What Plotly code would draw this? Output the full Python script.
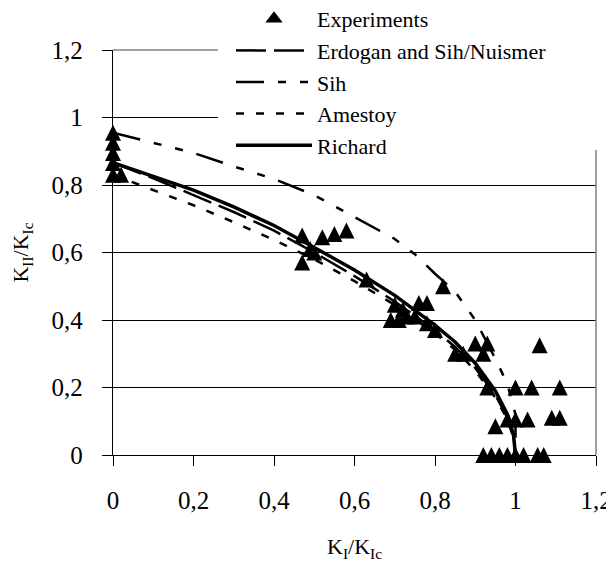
import plotly.graph_objects as go

# ---------------- data ----------------
exp_x = [0, 0, 0, 0, 0, 0.02,
         0.47, 0.47, 0.49, 0.50, 0.52, 0.55, 0.58,
         0.63,
         0.69, 0.70, 0.71, 0.72, 0.73, 0.75, 0.76, 0.78, 0.78, 0.80,
         0.82,
         0.85, 0.87, 0.90, 0.92, 0.93, 1.06,
         0.93, 1.00, 1.04, 1.11,
         0.95, 0.98, 1.00, 1.03, 1.09, 1.11,
         0.92, 0.94, 0.96, 0.98, 1.00, 1.02, 1.055, 1.07]
exp_y = [0.83, 0.865, 0.895, 0.925, 0.955, 0.83,
         0.65, 0.57, 0.61, 0.60, 0.645, 0.655, 0.665,
         0.52,
         0.40, 0.445, 0.40, 0.43, 0.41, 0.41, 0.45, 0.45, 0.39, 0.37,
         0.50,
         0.30, 0.30, 0.33, 0.30, 0.33, 0.325,
         0.20, 0.20, 0.20, 0.20,
         0.085, 0.105, 0.105, 0.105, 0.11, 0.11,
         0, 0, 0, 0, 0, 0, 0, 0]

curve_x = [0, 0.1, 0.2, 0.3, 0.4, 0.5, 0.6, 0.7, 0.8, 0.85, 0.9, 0.95, 0.98, 0.995, 1.0]
richard_y = [0.866, 0.825, 0.785, 0.735, 0.68, 0.615, 0.548, 0.473, 0.385, 0.335, 0.272, 0.19, 0.12, 0.06, 0]
erdogan_y = [0.866, 0.82, 0.77, 0.72, 0.665, 0.60, 0.53, 0.455, 0.37, 0.32, 0.258, 0.178, 0.11, 0.055, 0]
amestoy_y = [0.83, 0.785, 0.74, 0.69, 0.637, 0.58, 0.515, 0.445, 0.36, 0.312, 0.25, 0.17, 0.105, 0.05, 0]

sih_x = [0, 0.1, 0.2, 0.3, 0.4, 0.5, 0.6, 0.7, 0.75, 0.8, 0.85, 0.9, 0.95, 0.98, 1.0, 1.0]
sih_y = [0.955, 0.925, 0.895, 0.855, 0.818, 0.77, 0.705, 0.64, 0.595, 0.537, 0.484, 0.40, 0.285, 0.21, 0.12, 0]

tick_vals = [0, 0.2, 0.4, 0.6, 0.8, 1.0, 1.2]

# ---------------- layout constants ----------------
# the page adds an 8px body margin, so the figure is 8px smaller
W, H = 606, 557
M_L, M_R, M_T, M_B = 105, 18, 42, 110
Y_RANGE = [0, 1.2]
MARKER_SIZE = 16
FONT = "Times New Roman, Liberation Serif, serif"

plot_w = W - M_L - M_R
plot_h = H - M_T - M_B
px_per_unit = plot_h / (Y_RANGE[1] - Y_RANGE[0])
# arrow-up symbol has its apex at the data point; shift its axis so the
# triangle is centred on the value
shift = (MARKER_SIZE / 2) / px_per_unit

LEG_LEFT = 223      # figure px
LEG_TOP = -10       # figure px
LEG_BOTTOM = 142    # figure px (white box under legend)
legend_x = (LEG_LEFT - M_L) / plot_w
legend_y = (H - M_B - LEG_TOP) / plot_h
box_x0 = (218 - 8 - M_L) / plot_w
box_y0 = (H - M_B - LEG_BOTTOM) / plot_h

fig = go.Figure()

# legend entry for experiments
fig.add_trace(go.Scatter(
    x=[None], y=[None], mode="markers", name="Experiments",
    marker=dict(symbol="triangle-up", size=15, color="black"),
))
fig.add_trace(go.Scatter(
    x=curve_x, y=erdogan_y, mode="lines", name="Erdogan and Sih/Nuismer",
    line=dict(color="black", width=2.5, dash="30px,8px"),
))
fig.add_trace(go.Scatter(
    x=sih_x, y=sih_y, mode="lines", name="Sih",
    line=dict(color="black", width=2.5, dash="28px,14px,8px,14px,8px,14px"),
))
fig.add_trace(go.Scatter(
    x=curve_x, y=amestoy_y, mode="lines", name="Amestoy",
    line=dict(color="black", width=2.5, dash="8px,12px"),
))
fig.add_trace(go.Scatter(
    x=curve_x, y=richard_y, mode="lines", name="Richard",
    line=dict(color="black", width=3.5),
))
# experimental points
fig.add_trace(go.Scatter(
    x=exp_x, y=exp_y, mode="markers", name="Experiments", showlegend=False,
    yaxis="y2", cliponaxis=False,
    marker=dict(symbol="arrow-up", size=MARKER_SIZE, color="black",
                line=dict(width=0)),
))

axis_font = dict(family=FONT, size=25, color="black")

fig.update_layout(
    width=W, height=H,
    margin=dict(l=M_L, r=M_R, t=M_T, b=M_B, autoexpand=False),
    paper_bgcolor="white", plot_bgcolor="white",
    separators=", ",
    font=dict(family=FONT, color="black"),
    xaxis=dict(
        range=[0, 1.2], tickvals=tick_vals, ticks="outside", ticklen=10,
        tickwidth=1.3, tickcolor="black", showline=True, linecolor="black",
        linewidth=1.3, showgrid=False, zeroline=False, tickfont=axis_font,
        ticklabelstandoff=13, automargin=False,
        title=dict(text="K<sub>I</sub>/K<sub>Ic</sub>",
                   font=dict(family=FONT, size=22, color="black"), standoff=25),
    ),
    yaxis=dict(
        range=Y_RANGE, tickvals=tick_vals, ticks="outside", ticklen=10,
        tickwidth=1.3, tickcolor="black", showline=True, linecolor="black",
        linewidth=1.3, showgrid=True, gridcolor="black", gridwidth=1.3,
        zeroline=False, tickfont=axis_font, ticklabelstandoff=14,
        automargin=False,
        title=dict(text="K<sub>II</sub>/K<sub>Ic</sub>",
                   font=dict(family=FONT, size=22, color="black"), standoff=20),
    ),
    yaxis2=dict(
        overlaying="y", range=[Y_RANGE[0] - shift, Y_RANGE[1] - shift],
        visible=False,
    ),
    legend=dict(
        x=legend_x, y=legend_y,
        xanchor="left", yanchor="top",
        bgcolor="white", borderwidth=0,
        font=dict(family=FONT, size=22, color="black"),
        itemwidth=76, tracegroupgap=0,
    ),
    shapes=[
        # white area behind the legend (hides gridlines there)
        dict(type="rect", xref="paper", yref="paper", x0=box_x0, x1=1.05,
             y0=box_y0, y1=1.2, fillcolor="white", line=dict(width=0),
             layer="above"),
        # grey plot-area border (top and right)
        dict(type="line", xref="paper", yref="paper", x0=0, x1=box_x0,
             y0=1, y1=1, line=dict(color="#808080", width=1.5), layer="above"),
        dict(type="line", xref="paper", yref="paper", x0=1, x1=1,
             y0=0, y1=box_y0, line=dict(color="#808080", width=1.5),
             layer="above"),
    ],
    showlegend=True,
)

fig.write_html("out.html")
